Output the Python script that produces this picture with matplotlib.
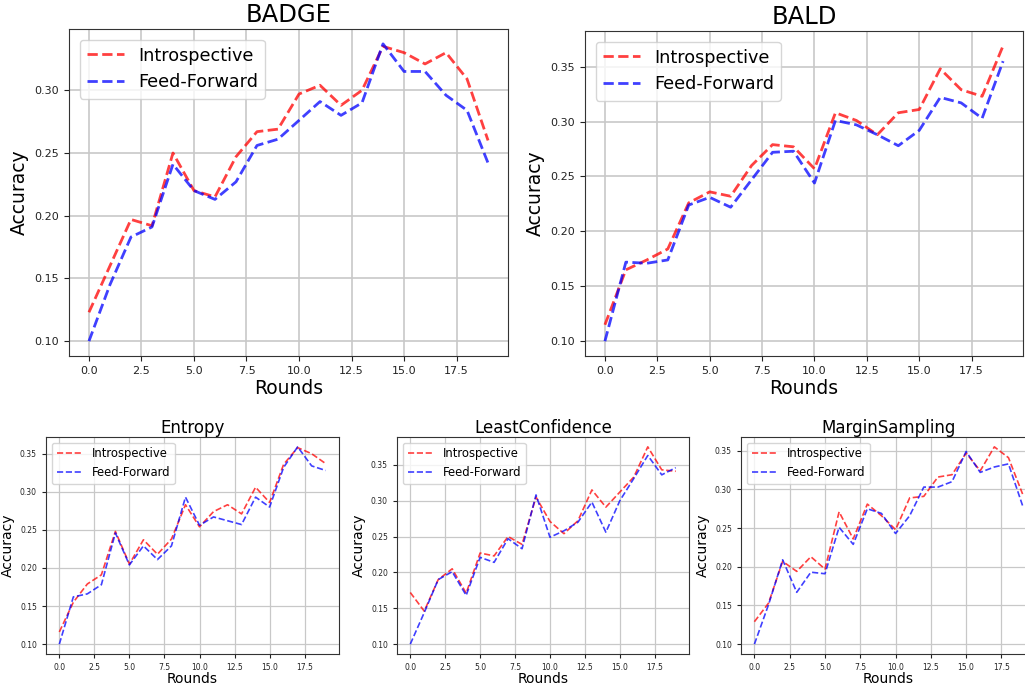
import matplotlib
matplotlib.use("Agg")
import matplotlib.pyplot as plt

rounds = list(range(20))

badge_intro = [0.123, 0.160, 0.197, 0.192, 0.250, 0.220, 0.215, 0.247, 0.267, 0.269,
               0.297, 0.304, 0.288, 0.300, 0.335, 0.330, 0.321, 0.330, 0.309, 0.260]
badge_ff = [0.100, 0.145, 0.183, 0.191, 0.241, 0.220, 0.213, 0.227, 0.256, 0.261,
            0.276, 0.291, 0.280, 0.290, 0.337, 0.315, 0.315, 0.296, 0.284, 0.242]

bald_intro = [0.115, 0.165, 0.174, 0.184, 0.226, 0.236, 0.232, 0.260, 0.279, 0.277,
              0.257, 0.308, 0.301, 0.288, 0.308, 0.311, 0.348, 0.329, 0.323, 0.369]
bald_ff = [0.100, 0.172, 0.171, 0.174, 0.224, 0.231, 0.222, 0.247, 0.272, 0.273,
           0.244, 0.301, 0.297, 0.288, 0.278, 0.292, 0.322, 0.317, 0.303, 0.355]

entropy_intro = [0.116, 0.155, 0.179, 0.191, 0.248, 0.205, 0.237, 0.218, 0.238, 0.283,
                 0.254, 0.274, 0.283, 0.271, 0.306, 0.286, 0.336, 0.358, 0.350, 0.337]
entropy_ff = [0.100, 0.162, 0.166, 0.178, 0.246, 0.204, 0.229, 0.211, 0.229, 0.293,
              0.256, 0.267, 0.262, 0.257, 0.293, 0.280, 0.332, 0.359, 0.334, 0.328]

lc_intro = [0.172, 0.146, 0.190, 0.205, 0.171, 0.227, 0.223, 0.250, 0.239, 0.305,
            0.271, 0.254, 0.272, 0.315, 0.291, 0.312, 0.333, 0.375, 0.343, 0.341]
lc_ff = [0.100, 0.144, 0.190, 0.201, 0.168, 0.221, 0.214, 0.247, 0.233, 0.308,
         0.249, 0.258, 0.270, 0.298, 0.256, 0.300, 0.331, 0.363, 0.336, 0.346]

ms_intro = [0.129, 0.153, 0.207, 0.194, 0.213, 0.197, 0.271, 0.236, 0.281, 0.266,
            0.248, 0.289, 0.291, 0.316, 0.319, 0.347, 0.324, 0.355, 0.341, 0.294]
ms_ff = [0.100, 0.151, 0.209, 0.167, 0.193, 0.191, 0.251, 0.229, 0.275, 0.269,
         0.243, 0.266, 0.303, 0.303, 0.310, 0.349, 0.322, 0.329, 0.333, 0.279]

W, H = 1025, 684


def rect(l, t, r, b):
    # pixel box (left, top, right, bottom) -> figure fractions
    return [l / W, 1 - b / H, (r - l) / W, (b - t) / H]


def panel(fig, box, title, intro, ff, big):
    ax = fig.add_axes(rect(*box))
    lw = 2.0 if big else 1.2
    ax.plot(rounds, intro, "--", color="red", alpha=0.75, lw=lw, label="Introspective")
    ax.plot(rounds, ff, "--", color="blue", alpha=0.75, lw=lw, label="Feed-Forward")
    ax.grid(True, color="#c8c8c8", lw=1.2 if big else 0.9)
    ax.set_axisbelow(True)
    for s in ax.spines.values():
        s.set_color("#333333")
    if big:
        ax.set_title(title, fontsize=17.5, pad=5)
        ax.set_xlabel("Rounds", fontsize=13.5, labelpad=2)
        ax.set_ylabel("Accuracy", fontsize=13.5)
        ax.tick_params(labelsize=8, colors="#222222")
        ax.legend(loc="upper left", fontsize=12.7, handlelength=2.1,
                  handletextpad=0.8, borderaxespad=0.6)
    else:
        ax.set_title(title, fontsize=12, pad=3)
        ax.set_xlabel("Rounds", fontsize=10, labelpad=0)
        ax.set_ylabel("Accuracy", fontsize=10)
        ax.tick_params(labelsize=5.5, colors="#222222", length=3)
        ax.legend(loc="upper left", fontsize=8.4, handlelength=2.3,
                  handletextpad=0.7)
    return ax


fig = plt.figure(figsize=(W / 100, H / 100), dpi=100)
panel(fig, (69, 29, 508, 356), "BADGE", badge_intro, badge_ff, True)
panel(fig, (585, 31, 1023, 356), "BALD", bald_intro, bald_ff, True)
panel(fig, (46, 437, 339, 654), "Entropy", entropy_intro, entropy_ff, False)
panel(fig, (397, 437, 689, 654), "LeastConfidence", lc_intro, lc_ff, False)
panel(fig, (741, 437, 1036, 654), "MarginSampling", ms_intro, ms_ff, False)

fig.savefig("out.png", dpi=100)
